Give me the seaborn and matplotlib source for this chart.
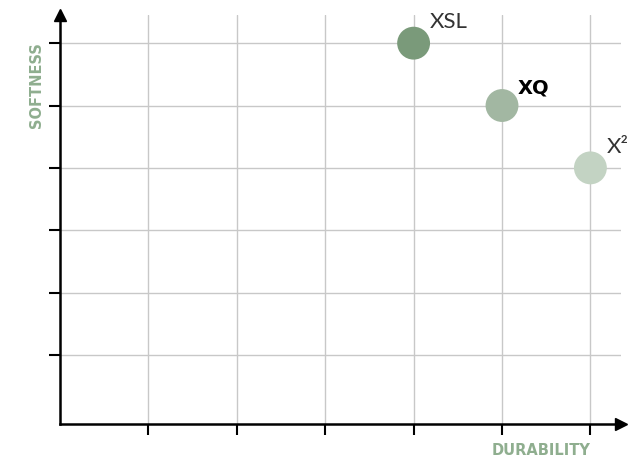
import numpy as np
import pandas as pd
import matplotlib.pyplot as plt
import seaborn as sns

sns.set_style("white")
plt.rcParams['font.family'] = ['Lato', 'DejaVu Sans']

# product positions on durability / softness grid
products = ["XSL", "XQ", "X\u00b2"]
durability = [4, 5, 6]
softness = [6, 5, 4]
colors = ["#7a9a7a", "#a2b7a2", "#c3d3c3"]
label_weight = ["normal", "bold", "normal"]

df = pd.DataFrame({"Product": products, "Durability": durability, "Softness": softness})

fig = plt.figure(figsize=(6.35, 4.62), dpi=100)
ax = fig.add_axes([0.0945, 0.0833, 0.884, 0.884])

sns.scatterplot(data=df, x="Durability", y="Softness", hue="Product",
                palette=colors, s=560, edgecolor="none", legend=False,
                ax=ax, zorder=3)

ax.set_xlim(0, 6.35)
ax.set_ylim(-0.1, 6.45)
ax.set_xticks(range(1, 7))
ax.set_yticks(range(1, 7))
ax.set_xticklabels([])
ax.set_yticklabels([])
ax.grid(True, color="#c8c8c8", linewidth=1)
ax.tick_params(axis="both", direction="out", length=8, width=1.5, color="black",
               bottom=True, left=True)
for s in ["top", "right"]:
    ax.spines[s].set_visible(False)
for s in ["left", "bottom"]:
    ax.spines[s].set_linewidth(1.8)
    ax.spines[s].set_color("black")

# arrow heads
ax.plot(1.0, 0, ">", color="black", markersize=9, transform=ax.transAxes, clip_on=False)
ax.plot(0, 1.0, "^", color="black", markersize=9, transform=ax.transAxes, clip_on=False)

for name, x, y, w in zip(products, durability, softness, label_weight):
    if w == "bold":
        ax.annotate(name, (x, y), xytext=(11, 6), textcoords="offset points",
                    fontsize=14, fontweight="bold", color="black",
                    family="DejaVu Sans", va="bottom", ha="left")
    else:
        ax.annotate(name, (x, y), xytext=(12, 8), textcoords="offset points",
                    fontsize=16, color="#333333", va="bottom", ha="left")

ax.set_xlabel("")
ax.set_ylabel("")
fig.text(0.93, 0.025, "DURABILITY", color="#8fae8f", fontsize=10.5,
         fontweight="bold", family="DejaVu Sans", ha="right", va="center")
fig.text(0.058, 0.815, "SOFTNESS", color="#8fae8f", fontsize=10.5,
         fontweight="bold", family="DejaVu Sans", rotation=90,
         ha="center", va="center")

fig.savefig("out.png", dpi=100)
